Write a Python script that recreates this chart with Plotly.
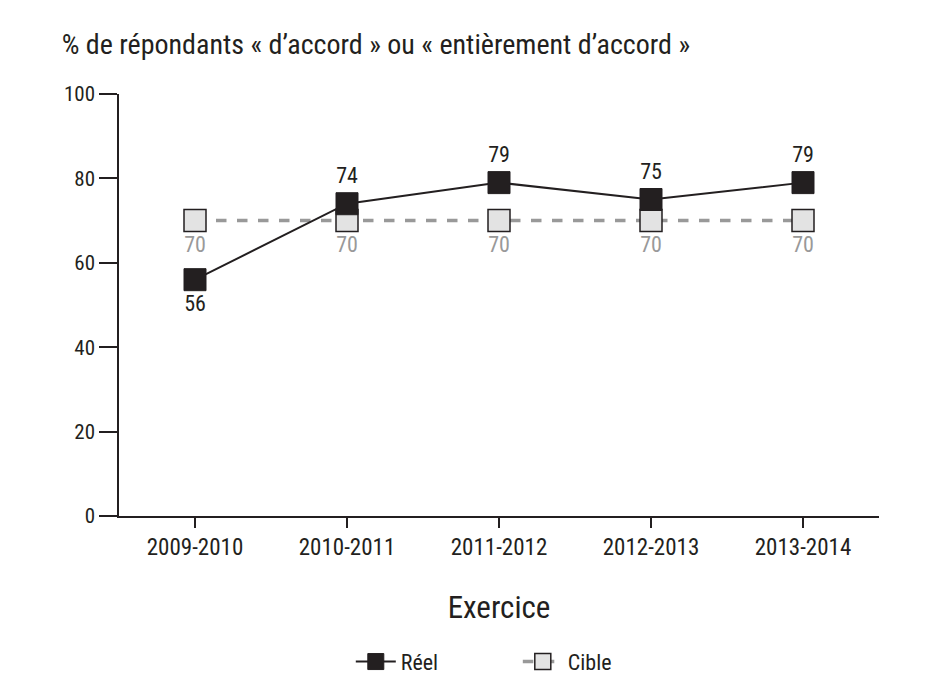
import plotly.graph_objects as go

categories = ["2009-2010", "2010-2011", "2011-2012", "2012-2013", "2013-2014"]
reel = [56, 74, 79, 75, 79]
cible = [70, 70, 70, 70, 70]
reel_label_pos = ["bottom center", "top center", "top center", "top center", "top center"]

FONT = "Roboto Condensed, DejaVu Sans Condensed, sans-serif"
DARK = "#231f20"
GRAY = "#999999"

fig = go.Figure()
fig.add_trace(go.Scatter(
    x=categories, y=cible, name="Cible", mode="lines+markers+text",
    line=dict(color=GRAY, width=3.5, dash="dash"),
    marker=dict(symbol="square", size=22, color="#e3e3e3", line=dict(color=DARK, width=1.5)),
    text=[str(v) for v in cible], textposition="bottom center",
    textfont=dict(family=FONT, size=22, color=GRAY),
    legendrank=2,
))
fig.add_trace(go.Scatter(
    x=categories, y=reel, name="Réel", mode="lines+markers+text",
    line=dict(color=DARK, width=2),
    marker=dict(symbol="square", size=22, color=DARK, line=dict(color=DARK, width=1)),
    text=[str(v) for v in reel], textposition=reel_label_pos,
    textfont=dict(family=FONT, size=22, color=DARK),
    legendrank=1,
))

fig.update_layout(
    width=942, height=681,
    paper_bgcolor="white", plot_bgcolor="white",
    margin=dict(l=111, r=71, t=86, b=173),
    font=dict(family=FONT, color=DARK),
    title=dict(text="% de répondants « d’accord » ou « entièrement d’accord »",
               x=0.057, xanchor="left", y=0.947, yanchor="middle",
               font=dict(family=FONT, size=28, color=DARK)),
    xaxis=dict(
        range=[-0.5, 4.5], showgrid=False, zeroline=False,
        showline=True, linecolor=DARK, linewidth=1.5,
        ticks="outside", ticklen=10, tickcolor=DARK, tickwidth=1.5,
        tickfont=dict(family=FONT, size=23, color=DARK),
        title=dict(text="Exercice", font=dict(family=FONT, size=31, color=DARK), standoff=36),
    ),
    yaxis=dict(
        range=[0, 100], tickvals=[0, 20, 40, 60, 80, 100], showgrid=False, zeroline=False,
        showline=True, linecolor=DARK, linewidth=1.5,
        ticks="outside", ticklen=18, tickcolor=DARK, tickwidth=1.5,
        tickfont=dict(family=FONT, size=21, color=DARK),
    ),
    showlegend=True,
    legend=dict(orientation="h", x=0.305, xanchor="left", xref="paper",
                yref="container", y=0.04, yanchor="middle",
                font=dict(family=FONT, size=22, color=DARK), itemwidth=40,
                entrywidth=112),
)

fig.write_html("out.html")
